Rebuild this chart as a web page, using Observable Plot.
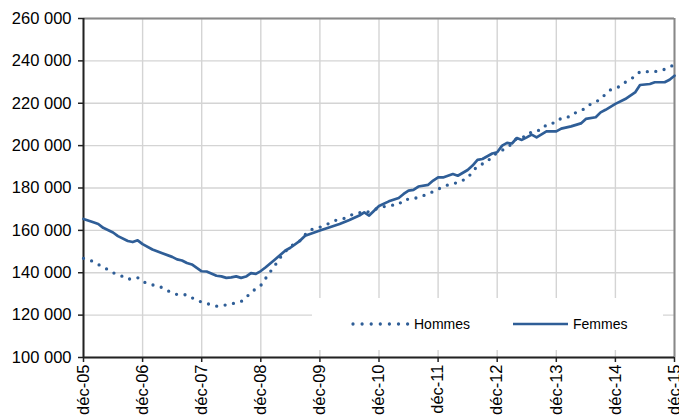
<!DOCTYPE html>
<html>
<head>
<meta charset="utf-8">
<script src="https://cdn.jsdelivr.net/npm/d3@7"></script>
<script src="https://cdn.jsdelivr.net/npm/@observablehq/plot@0.6"></script>
<style>
  html, body { margin: 0; padding: 0; background: #fff; }
  #chart { width: 679px; height: 417px; overflow: hidden; }
</style>
</head>
<body>
<div id="chart"></div>
<script>
// Month index counted from déc-05 (0) to déc-15 (120)
const tickLabels = ["déc-05","déc-06","déc-07","déc-08","déc-09","déc-10","déc-11","déc-12","déc-13","déc-14","déc-15"];
const xTicks = [0,12,24,36,48,60,72,84,96,108,120];
const yTicks = [100000,120000,140000,160000,180000,200000,220000,240000,260000];
const seriesNames = ["Hommes","Femmes"];

const hommes = [[0,146800],[2,145300],[3,143900],[5,141400],[6,140000],[8,138200],[9,136900],[11,137700],[12,135800],[14,134300],[16,133000],[17,131600],[19,129700],[21,129600],[22,128200],[24,126100],[25,125500],[27,124200],[28,124400],[30,125300],[32,126400],[33,128200],[34,130800],[36,134000],[37,137400],[38,140700],[39,143900],[40,147300],[41,150100],[42,152400],[44,155200],[45,158000],[46,160200],[48,161500],[50,163400],[51,164600],[53,165700],[54,167000],[56,168400],[57,168100],[59,169800],[61,171200],[62,171700],[64,172200],[65,174500],[67,174900],[69,176400],[70,177200],[72,179400],[73,180700],[75,182200],[76,182400],[78,184800],[79,187700],[80,190400],[82,192300],[83,195300],[84,196400],[86,199200],[87,200800],[88,203600],[90,204400],[91,206700],[93,207400],[94,209900],[96,211000],[97,213000],[99,213800],[100,215700],[102,217600],[103,219700],[105,221800],[106,224400],[107,226300],[109,228000],[110,229900],[112,232700],[113,234900],[115,234900],[116,234900],[118,236000],[120,238200]];

const femmes = [[0,165400],[2,163800],[3,163000],[4,161200],[6,159000],[7,157300],[9,155000],[10,154500],[11,155300],[12,153500],[14,151000],[16,149200],[18,147500],[19,146300],[20,145800],[21,144600],[22,143900],[24,140700],[25,140600],[27,138600],[28,138300],[29,137600],[30,137800],[31,138300],[32,137600],[33,138200],[34,139800],[35,139500],[36,140800],[37,142600],[39,146500],[41,150500],[42,151800],[44,155200],[45,157500],[47,159100],[48,159900],[50,161500],[52,163000],[54,164900],[56,167000],[57,168500],[58,167000],[59,169300],[60,171500],[62,173700],[64,175300],[65,177200],[66,178800],[67,179100],[68,180700],[70,181500],[71,183500],[72,185000],[73,185000],[75,186600],[76,185800],[78,188500],[79,190600],[80,193300],[81,193700],[83,196300],[84,196900],[85,200000],[86,201300],[87,201000],[88,203600],[89,202700],[90,203900],[91,205200],[92,203900],[94,206700],[96,206700],[97,208000],[99,209100],[101,210500],[102,212600],[104,213400],[105,215700],[106,216900],[108,219700],[110,222000],[112,225100],[113,228600],[115,229100],[116,229900],[118,229900],[119,231100],[120,233000]];

const blue = "#2f5e97";
const fmt = v => String(v).replace(/\B(?=(\d{3})+(?!\d))/g, " ");

const chart = Plot.plot({
  width: 679,
  height: 417,
  marginLeft: 83,
  marginRight: 5,
  marginTop: 18,
  marginBottom: 60,
  style: { fontFamily: "'Liberation Sans', Arial, sans-serif", fontSize: "16.5px", color: "#000", background: "#fff", overflow: "visible" },
  x: { domain: [0, 120] },
  y: { domain: [100000, 260000] },
  marks: [
    Plot.gridX(xTicks, { stroke: "#d4d4d4", strokeOpacity: 1, strokeWidth: 1.4 }),
    Plot.gridY(yTicks, { stroke: "#d4d4d4", strokeOpacity: 1, strokeWidth: 1.4 }),
    Plot.axisY(yTicks, { tickSize: 5, tickPadding: 7, tickFormat: fmt, label: null, stroke: "#222", strokeWidth: 1.5 }),
    Plot.axisX(xTicks, { tickSize: 5, tickPadding: 2, tickRotate: -90, tickFormat: d => tickLabels[d / 12], label: null, stroke: "#222", strokeWidth: 1.5 }),
    Plot.ruleY([260000], { stroke: "#888", strokeWidth: 2 }),
    Plot.ruleX([120], { stroke: "#888", strokeWidth: 2 }),
    Plot.ruleX([0], { stroke: "#222", strokeWidth: 2 }),
    Plot.ruleY([100000], { stroke: "#222", strokeWidth: 2 }),
    Plot.line(hommes, { x: d => d[0], y: d => d[1], stroke: blue, strokeWidth: 3.3, strokeDasharray: "0 8.5", strokeLinecap: "round", curve: "linear" }),
    Plot.line(femmes, { x: d => d[0], y: d => d[1], stroke: blue, strokeWidth: 2.7, strokeLinejoin: "round" })
  ]
});

document.getElementById("chart").appendChild(chart);

// Legend box drawn inside the plot area
const svg = d3.select(chart);
const lg = svg.append("g")
  .attr("font-family", "'Liberation Sans', Arial, sans-serif")
  .attr("font-size", "14px")
  .attr("text-anchor", "start");
lg.append("rect").attr("x", 312).attr("y", 298).attr("width", 351).attr("height", 52).attr("fill", "#fff");
lg.append("line").attr("x1", 353).attr("x2", 408).attr("y1", 324).attr("y2", 324)
  .attr("stroke", blue).attr("stroke-width", 3.3).attr("stroke-dasharray", "0 9.1").attr("stroke-linecap", "round");
lg.append("text").attr("x", 414).attr("y", 324).attr("dy", "0.35em").attr("text-anchor", "start").text(seriesNames[0]);
lg.append("line").attr("x1", 513).attr("x2", 568).attr("y1", 324).attr("y2", 324)
  .attr("stroke", blue).attr("stroke-width", 2.7);
lg.append("text").attr("x", 573).attr("y", 324).attr("dy", "0.35em").attr("text-anchor", "start").text(seriesNames[1]);
</script>
</body>
</html>
